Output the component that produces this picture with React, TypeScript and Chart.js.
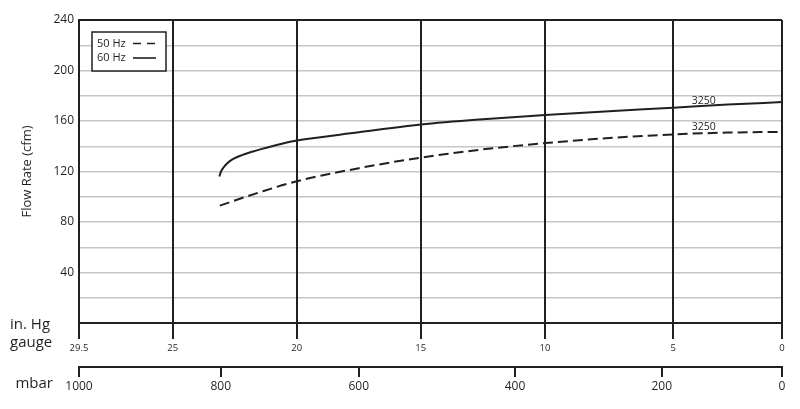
import React, { useEffect, useRef } from 'react';
import { Chart, registerables, LinearScale } from 'chart.js';

// ---------- data ----------
const inHgTicks = [29.5, 25, 20, 15, 10, 5, 0];
const mbarTicks = [1000, 800, 600, 400, 200, 0];
const flowMin = 0;
const flowMax = 240;
const flowStep = 20;
const flowLabelEvery = 40;

const hz60Label = '60 Hz';
const hz60InHg = [23.12, 23.06, 22.95, 22.81, 22.61, 22.21, 21.8, 21.4, 21.0, 20.59, 20, 17.5, 15, 12.5, 10, 7.5, 5, 2.5, 0];
const hz60Cfm = [116, 119.6, 123.2, 126.3, 129.4, 133.0, 135.6, 137.9, 140.0, 142.0, 144.5, 151, 157.2, 161.4, 164.7, 167.8, 170.5, 173, 175];

const hz50Label = '50 Hz';
const hz50InHg = [23.1, 21.5, 20, 17.5, 15, 12.5, 10, 7.5, 5, 2.5, 0];
const hz50Cfm = [93, 103.5, 112.3, 122.6, 131, 137.5, 142.5, 146.5, 149.4, 150.8, 151.4];

const curveLabelText = ['3250', '3250'];
const curveLabelInHg = 3.6;
const curveLabelCfm = [175.5, 155.6];

const yTitle = 'Flow Rate (cfm)';
const inHgTitle = ['in. Hg', 'gauge'];
const mbarTitle = 'mbar';

// ---------- piecewise scale ----------
class PiecewiseScale extends LinearScale {
  static id = 'piecewise';
  static defaults = LinearScale.defaults;

  _knots(): [number[], number[]] {
    const o: any = this.options;
    return [o.knotValues, o.knotFractions];
  }
  getPixelForValue(value: number) {
    if (value === null || value === undefined || isNaN(value)) return NaN;
    const [vals, fr] = this._knots();
    let i = 0;
    for (; i < vals.length - 2; i++) {
      const a = vals[i], b = vals[i + 1];
      if ((value - a) * (value - b) <= 0) break;
    }
    const a = vals[i], b = vals[i + 1];
    const t = (value - a) / (b - a);
    const f = fr[i] + t * (fr[i + 1] - fr[i]);
    return this.getPixelForDecimal(f);
  }
  getValueForPixel(pixel: number) {
    const [vals, fr] = this._knots();
    const f = this.getDecimalForPixel(pixel);
    let i = 0;
    for (; i < fr.length - 2; i++) {
      if (f >= fr[i] && f <= fr[i + 1]) break;
    }
    const t = (f - fr[i]) / (fr[i + 1] - fr[i]);
    return vals[i] + t * (vals[i + 1] - vals[i]);
  }
}

Chart.register(...registerables, PiecewiseScale);

const INK = '#231f20';
const FONT = '"Open Sans", "DejaVu Sans", sans-serif';

const overlayPlugin = {
  id: 'overlay',
  afterDraw(chart: any) {
    const ctx = chart.ctx as CanvasRenderingContext2D;
    const { x, x2, y } = chart.scales;
    const area = chart.chartArea;
    ctx.save();
    ctx.fillStyle = INK;
    ctx.textBaseline = 'middle';
    ctx.font = `15px ${FONT}`;
    ctx.textAlign = 'left';
    ctx.fillText(inHgTitle[0], 10, x.top + 2);
    ctx.fillText(inHgTitle[1], 10, x.top + 20);
    ctx.textAlign = 'right';
    ctx.fillText(mbarTitle, 53, x2.top + 17);

    // curve labels
    ctx.font = `10.5px ${FONT}`;
    ctx.textAlign = 'center';
    curveLabelText.forEach((t, i) => {
      ctx.fillText(t, x.getPixelForValue(curveLabelInHg), y.getPixelForValue(curveLabelCfm[i]));
    });

    // legend
    const lx = area.left + 13;
    const ly = area.top + 12;
    ctx.fillStyle = '#fff';
    ctx.fillRect(lx, ly, 74, 39);
    ctx.strokeStyle = INK;
    ctx.lineWidth = 1.5;
    ctx.strokeRect(lx, ly, 74, 39);
    ctx.fillStyle = INK;
    ctx.font = `11px ${FONT}`;
    ctx.textAlign = 'left';
    const items = [
      { label: hz50Label, dash: [8, 6] },
      { label: hz60Label, dash: [] as number[] },
    ];
    items.forEach((it, i) => {
      const cy = ly + 11.5 + i * 14.5;
      ctx.fillText(it.label, lx + 5, cy);
      ctx.beginPath();
      ctx.setLineDash(it.dash);
      ctx.lineWidth = 1.6;
      ctx.moveTo(lx + 41, cy);
      ctx.lineTo(lx + 64, cy);
      ctx.stroke();
    });
    ctx.setLineDash([]);
    ctx.restore();
  },
};

export default function App() {
  const ref = useRef<HTMLCanvasElement | null>(null);
  useEffect(() => {
    if (!ref.current) return;
    const chart = new Chart(ref.current, {
      type: 'line',
      data: {
        datasets: [
          {
            label: hz60Label,
            data: hz60InHg.map((v, i) => ({ x: v, y: hz60Cfm[i] })),
            borderColor: INK,
            borderWidth: 2,
            pointRadius: 0,
            cubicInterpolationMode: 'monotone',
            xAxisID: 'x',
            yAxisID: 'y',
          },
          {
            label: hz50Label,
            data: hz50InHg.map((v, i) => ({ x: v, y: hz50Cfm[i] })),
            borderColor: INK,
            borderWidth: 2,
            borderDash: [10, 5],
            pointRadius: 0,
            cubicInterpolationMode: 'monotone',
            xAxisID: 'x',
            yAxisID: 'y',
          },
        ],
      },
      options: {
        animation: false,
        responsive: false,
        maintainAspectRatio: false,
        events: [],
        layout: { padding: { top: 20, right: 18, bottom: 0, left: 0 } },
        plugins: {
          legend: { display: false },
          tooltip: { enabled: false },
        },
        scales: {
          x: {
            type: 'piecewise' as any,
            position: 'bottom',
            min: 0,
            max: 29.5,
            knotValues: inHgTicks,
            knotFractions: [0, 0.1333, 0.3097, 0.4861, 0.6629, 0.8454, 1],
            afterBuildTicks: (axis: any) => {
              axis.ticks = inHgTicks.map((v) => ({ value: v }));
            },
            afterFit: (axis: any) => {
              axis.height = 44;
            },
            grid: {
              color: INK,
              lineWidth: 2,
              tickLength: 16,
              drawTicks: true,
              z: -1,
            },
            border: { color: INK, width: 2 },
            ticks: {
              autoSkip: false,
              maxRotation: 0,
              color: INK,
              padding: 4,
              font: { family: FONT, size: 9.5 },
              callback: (v: any) => String(v),
            },
          } as any,
          x2: {
            type: 'piecewise' as any,
            position: 'bottom',
            min: 0,
            max: 1000,
            knotValues: mbarTicks,
            knotFractions: [0, 0.2016, 0.3979, 0.6202, 0.8289, 1],
            afterBuildTicks: (axis: any) => {
              axis.ticks = mbarTicks.map((v) => ({ value: v }));
            },
            afterFit: (axis: any) => {
              axis.height = 42;
            },
            grid: {
              color: INK,
              lineWidth: 2,
              tickLength: 10,
              drawOnChartArea: false,
              drawTicks: true,
            },
            border: { color: INK, width: 2 },
            ticks: {
              autoSkip: false,
              maxRotation: 0,
              color: INK,
              padding: 2,
              font: { family: FONT, size: 12 },
              callback: (v: any) => String(v),
            },
          } as any,
          y: {
            type: 'linear',
            position: 'left',
            min: flowMin,
            max: flowMax,
            afterFit: (axis: any) => {
              axis.width = 79;
            },
            ticks: {
              stepSize: flowStep,
              color: INK,
              padding: 5,
              font: { family: FONT, size: 12 },
              callback: (v: any) => (v % flowLabelEvery === 0 && v !== 0 ? String(v) : ''),
            },
            grid: {
              drawTicks: false,
              z: -2,
              color: (c: any) =>
                c.tick.value === flowMax ? INK : c.tick.value === flowMin ? 'rgba(0,0,0,0)' : '#c6c6c6',
              lineWidth: (c: any) => (c.tick.value === flowMax ? 2 : 1.5),
            },
            border: { color: INK, width: 2 },
            title: {
              display: true,
              text: yTitle,
              color: INK,
              font: { family: FONT, size: 13 },
              padding: { top: 19, bottom: 0 },
            },
          },
        },
      } as any,
      plugins: [overlayPlugin],
    });
    return () => chart.destroy();
  }, []);
  return (
    <div style={{ position: 'absolute', left: 0, top: 0, width: 800, height: 409, background: '#fff' }}>
      <canvas ref={ref} width={800} height={409} style={{ width: 800, height: 409, display: 'block' }} />
    </div>
  );
}
